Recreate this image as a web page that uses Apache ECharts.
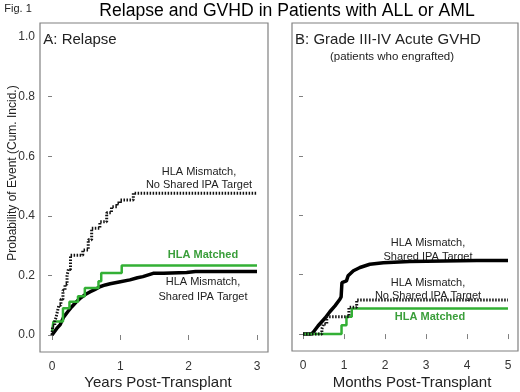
<!DOCTYPE html>
<html>
<head>
<meta charset="utf-8">
<script src="https://cdn.jsdelivr.net/npm/echarts@6/dist/echarts.min.js"></script>
<style>
html, body { margin: 0; padding: 0; background: #fff; }
#chart { width: 520px; height: 392px; }
</style>
</head>
<body>
<div id="chart"></div>
<script>
// tick values
const probTicks = [0, 0.2, 0.4, 0.6, 0.8, 1.0];
const yearTicks = [0, 1, 2, 3];
const monthTicks = [0, 1, 2, 3, 4, 5];

// A: relapse -- [years, cum. incidence]
const relapseMatched = [[0,0.01],[0.02,0.045],[0.16,0.09],[0.255,0.112],[0.38,0.13],[0.48,0.158],[0.68,0.18],[0.72,0.208],[1.02,0.233],[3.0,0.233]];
const relapseSharedIPA = [[0,0],[0.07,0.022],[0.12,0.035],[0.17,0.06],[0.23,0.078],[0.29,0.095],[0.35,0.11],[0.41,0.123],[0.48,0.135],[0.56,0.145],[0.63,0.153],[0.7,0.162],[0.78,0.168],[0.85,0.172],[1.0,0.179],[1.14,0.185],[1.25,0.192],[1.33,0.196],[1.48,0.207],[1.63,0.207],[1.97,0.21],[2.1,0.213],[3.0,0.213]];
const relapseNoSharedIPA = [[0,0],[0.01,0.03],[0.04,0.045],[0.06,0.06],[0.08,0.08],[0.1,0.1],[0.13,0.12],[0.16,0.15],[0.19,0.17],[0.22,0.2],[0.24,0.22],[0.27,0.268],[0.45,0.285],[0.53,0.32],[0.58,0.358],[0.7,0.38],[0.8,0.41],[0.87,0.43],[0.95,0.443],[1.0,0.453],[1.19,0.476],[3.0,0.476]];

// B: grade III-IV acute GVHD -- [months, cum. incidence]
const gvhdMatched = [[0,0],[0.94,0.03],[1.06,0.058],[1.19,0.086],[5,0.086]];
const gvhdSharedIPA = [[0,0],[0.2,0],[0.25,0.006],[0.37,0.028],[0.54,0.054],[0.66,0.076],[0.78,0.095],[0.9,0.117],[0.93,0.125],[0.95,0.173],[1.06,0.179],[1.1,0.196],[1.23,0.213],[1.39,0.224],[1.63,0.235],[1.96,0.24],[2.6,0.244],[3.42,0.246],[4.24,0.248],[5,0.248]];
const gvhdNoSharedIPA = [[0,0],[0.46,0.017],[0.5,0.034],[0.58,0.058],[1.12,0.09],[1.31,0.115],[5,0.115]];

const FONT = '"Liberation Sans", Arial, sans-serif';
const GREEN = '#33b035';
const BOX = '#808080';

var xAxisOf = function (grid, min, max, ticks) {
    return {
        type: 'value', gridIndex: grid, min: min, max: max,
        axisLine: { show: false },
        splitLine: { show: false },
        axisTick: { show: true, inside: false, length: 5, customValues: ticks, lineStyle: { color: BOX } },
        axisLabel: { customValues: ticks, margin: 9, color: '#333', fontSize: 12, fontFamily: FONT }
    };
};
var yAxisOf = function (grid, labels) {
    return {
        type: 'value', gridIndex: grid, min: -0.057, max: 1.047,
        axisLine: { show: false },
        splitLine: { show: false },
        axisTick: { show: true, inside: false, length: 4, customValues: probTicks, lineStyle: { color: BOX } },
        axisLabel: { show: labels, customValues: probTicks, margin: 5, color: '#333', fontSize: 12, fontFamily: FONT,
            formatter: v => v.toFixed(1) }
    };
};
var txt = function (text, x, y, size, color, extra) {
    return Object.assign({
        type: 'text', x: x, y: y, silent: true,
        style: { text: text, font: size + 'px ' + FONT, fill: color || '#222',
            align: 'center', verticalAlign: 'middle', textAlign: 'center', textVerticalAlign: 'middle' }
    }, extra || {});
};
var boldGreen = function (text, x, y) {
    return txt(text, x, y, 11, null, { style: { text: text, font: 'bold 11px ' + FONT, fill: '#3a9e3a',
        align: 'center', verticalAlign: 'middle', textAlign: 'center', textVerticalAlign: 'middle' } });
};
var stepLine = function (data, xi, color, dotted) {
    return {
        type: 'line', xAxisIndex: xi, yAxisIndex: xi, data: data, step: 'end',
        showSymbol: false, silent: true,
        lineStyle: { color: color, width: dotted ? 3 : 2.5, type: dotted ? [1.5, 1.5] : 'solid' }
    };
};
var smoothLine = function (data, xi) {
    return {
        type: 'line', xAxisIndex: xi, yAxisIndex: xi, data: data,
        showSymbol: false, silent: true,
        lineStyle: { color: '#000', width: 3.5 }
    };
};

var chart = echarts.init(document.getElementById('chart'), null, { renderer: 'canvas' });
chart.setOption({
    backgroundColor: '#fff',
    animation: false,
    grid: [
        { left: 40, right: 252, top: 23, bottom: 40, show: true, borderColor: BOX, borderWidth: 1.2 },
        { left: 292, right: 2, top: 23, bottom: 41, show: true, borderColor: BOX, borderWidth: 1.2 }
    ],
    xAxis: [xAxisOf(0, -0.176, 3.161, yearTicks), xAxisOf(1, -0.268, 5.244, monthTicks)],
    yAxis: [yAxisOf(0, true), yAxisOf(1, false)],
    series: [
        smoothLine(relapseSharedIPA, 0),
        stepLine(relapseMatched, 0, GREEN, false),
        stepLine(relapseNoSharedIPA, 0, '#111', true),
        smoothLine(gvhdSharedIPA, 1),
        stepLine(gvhdMatched, 1, GREEN, false),
        stepLine(gvhdNoSharedIPA, 1, '#111', true)
    ],
    graphic: [
        txt('Fig. 1', 18, 9, 11),
        txt('Relapse and GVHD in Patients with ALL or AML', 287, 11, 17.6, '#000'),
        txt('A: Relapse', 80, 40, 15),
        txt('B: Grade III-IV Acute GVHD', 388, 40, 15),
        txt('(patients who engrafted)', 392, 57, 11.5),
        txt('Probability of Event (Cum. Incid.)', 13, 173, 12, '#222', { rotation: Math.PI / 2 }),
        txt('Years Post-Transplant', 158, 383, 15),
        txt('Months Post-Transplant', 412, 383, 15),
        txt('HLA Mismatch,', 199, 172, 11),
        txt('No Shared IPA Target', 199, 185, 11),
        boldGreen('HLA Matched', 203, 255),
        txt('HLA Mismatch,', 203, 282, 11),
        txt('Shared IPA Target', 203, 297, 11),
        txt('HLA Mismatch,', 428, 243, 11),
        txt('Shared IPA Target', 428, 257, 11),
        txt('HLA Mismatch,', 428, 283, 11),
        txt('No Shared IPA Target', 428, 296, 11),
        boldGreen('HLA Matched', 430, 317)
    ]
});
</script>
</body>
</html>
